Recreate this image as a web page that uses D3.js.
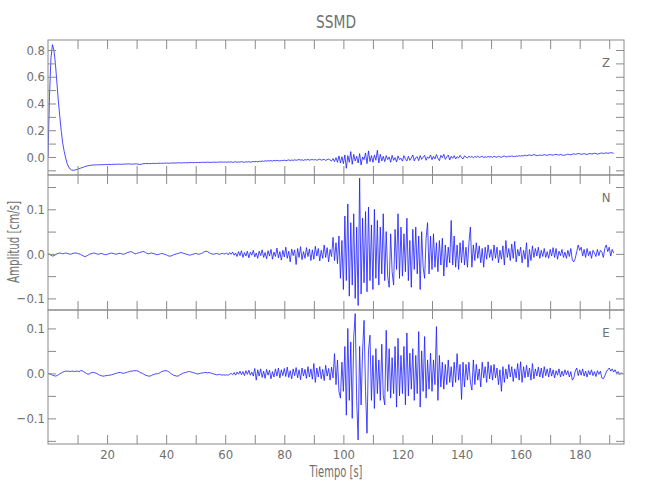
<!DOCTYPE html>
<html><head><meta charset="utf-8">
<script src="https://cdn.jsdelivr.net/npm/d3@7"></script>
<style>
body{margin:0;background:#fff}
svg{display:block}
text{font-family:"DejaVu Sans","Liberation Sans",sans-serif;font-stretch:condensed;fill:#707070}
</style>
</head><body>
<svg id="chart" width="650" height="500"></svg>
<script>
// ---------- data (in 0.001 cm/s) ----------
const title = "SSMD";
const xLabel = "Tiempo [s]";
const yLabel = "Amplitud [cm/s]";
const channels = ["Z", "N", "E"];
const sampleInterval = 0.5;   // s between samples
const startTime = 0;
const xTickValues = [10,20,30,40,50,60,70,80,90,100,110,120,130,140,150,160,170,180,190];
const xTickLabels = [20,40,60,80,100,120,140,160,180];

const zValues = [
  0,450,740,840,800,700,560,420,300,190,100,40,-10,-50,-75,-90,-98,-100,-98,-95,
  -92,-88,-84,-80,-76,-72,-69,-66,-64,-62,-61,-60,-60,-59,-59,-58,-58,-58,-57,-57,
  -57,-56,-56,-56,-55,-55,-55,-54,-54,-55,-55,-54,-53,-53,-52,-52,-53,-54,-53,-52,
  -52,-54,-56,-55,-52,-50,-50,-49,-50,-50,-49,-48,-48,-49,-48,-47,-47,-48,-47,-46,
  -46,-46,-47,-46,-45,-45,-46,-45,-44,-44,-45,-44,-43,-43,-44,-43,-42,-42,-43,-42,
  -42,-41,-42,-41,-40,-40,-41,-40,-39,-40,-41,-40,-39,-39,-40,-39,-38,-38,-39,-38,
  -38,-40,-37,-39,-36,-41,-38,-36,-40,-37,-39,-35,-38,-40,-36,-38,-35,-39,-37,-34,
  -36,-33,-37,-32,-34,-30,-33,-29,-31,-28,-30,-27,-31,-26,-29,-25,-28,-30,-26,-27,
  -24,-28,-25,-22,-27,-23,-26,-21,-25,-22,-19,-24,-21,-26,-20,-23,-18,-24,-21,-19,
  -23,-19,-25,-20,-17,-24,-21,-18,-26,-20,-16,-23,-30,-12,-35,-5,-40,8,-45,2,
  -50,15,-85,10,-40,40,-55,20,-30,5,-45,25,-60,0,-20,30,-50,45,-35,10,
  -40,15,-25,50,-45,20,-30,5,-35,10,-20,0,-40,12,-25,-5,-38,8,-20,-10,
  -32,10,-15,-30,5,-25,-8,15,-30,-5,2,-28,10,-18,-2,12,-25,0,-10,15,
  -20,5,-15,18,-10,-28,12,-5,20,-18,0,14,-22,5,-10,10,-15,2,-8,12,
  -5,-15,8,0,-8,6,-3,4,-6,3,-2,6,-4,1,5,-5,2,-3,4,-1,
  3,-4,6,0,-2,5,1,-3,4,7,2,0,6,3,8,4,2,7,5,9,
  6,10,8,14,9,12,16,11,13,18,14,10,12,15,11,13,17,14,12,16,
  18,15,13,17,20,16,14,18,15,12,14,17,21,18,16,20,24,19,22,26,
  23,20,22,25,21,19,23,26,22,24,28,25,21,24,27,30,26,28,31,27,
  29,32,30,28
];

const nValues = [
  0,-1,-3,-5,-4,-2,0,1,2,1,0,1,2,1,0,-1,0,1,2,2,
  1,0,-1,-3,-5,-6,-5,-3,-1,0,1,2,1,0,-1,0,1,0,-1,-2,
  -1,0,1,2,1,0,-1,0,1,1,0,-1,0,2,3,4,5,4,2,0,
  1,2,3,4,5,5,3,1,0,1,2,1,0,-1,-2,-1,0,1,0,-1,
  -2,-4,-5,-5,-4,-2,-1,0,1,2,3,2,1,0,-1,-2,-3,-2,-1,0,
  1,0,-1,0,1,3,5,6,5,3,1,0,-1,0,1,0,-1,0,1,0,
  0,2,-2,3,-1,4,-3,2,-6,5,-4,7,-8,3,-5,6,-9,4,-3,8,
  -7,2,-10,6,-4,9,-8,3,-11,7,-5,10,-12,4,-6,13,-9,5,-14,8,
  -7,15,-10,6,-18,11,-4,9,-24,12,-8,16,-13,5,-10,14,-6,11,-15,9,
  -12,17,-5,12,-16,8,-10,20,-8,14,-18,10,-6,37,-15,25,-22,40,-55,30,
  -80,85,-60,112,-95,70,-70,90,-100,60,-116,170,-90,80,-65,95,-85,105,-60,65,
  -80,100,-55,75,-70,60,-45,90,-60,50,-50,-75,45,-40,-70,55,-35,90,-55,60,
  -50,45,-40,80,-60,30,-75,55,-35,60,-45,40,-80,50,-30,-55,35,70,-45,40,
  -35,45,-30,25,-40,30,-25,35,-50,20,-30,15,-20,75,-25,40,-30,20,-35,25,
  -20,30,-25,15,-30,25,60,-30,20,-15,25,-10,18,-20,12,-30,15,-12,20,-8,
  10,-15,20,-10,15,-20,8,-12,18,-25,30,-8,12,-15,22,-10,28,-18,10,-5,
  15,-20,8,-12,25,-30,10,-15,18,-8,12,-5,15,-10,8,-6,12,-8,5,-10,
  10,-5,14,-8,12,-12,6,-4,10,-8,4,-10,8,-6,12,-14,-18,-10,5,20,
  8,15,-5,10,-8,12,-4,6,-10,8,2,-6,10,-4,8,4,-8,12,20,5,
  15,-5,10,2
];

const eValues = [
  0,-1,-2,-4,-5,-6,-5,-3,-1,1,3,4,5,5,5,4,5,5,4,5,
  5,4,6,6,4,2,0,-2,-1,1,2,2,1,0,-2,-4,-5,-6,-6,-5,
  -5,-4,-4,-3,-2,-1,0,1,2,2,1,0,1,2,3,4,5,5,6,6,
  6,5,3,1,0,-2,-4,-5,-6,-6,-5,-3,-2,-1,-1,0,2,4,5,6,
  6,5,3,0,-2,-4,-5,-6,-6,-4,-2,0,1,2,3,4,4,3,2,1,
  0,-1,-1,0,1,1,2,2,1,2,1,0,-1,-2,-3,-3,-2,-3,-4,-3,
  -4,-3,-4,-2,0,-3,2,-4,3,-2,5,-3,4,-5,6,-2,7,-4,3,-6,
  11,-15,8,-6,10,-9,5,-11,9,-4,7,-12,4,-8,10,-6,12,-10,8,-5,
  11,-7,14,-9,6,-12,10,-5,13,-10,8,-14,12,-6,9,-11,15,-8,10,-13,
  22,-20,12,-8,15,-12,9,-16,18,-6,11,-15,14,-10,44,-25,30,-40,-55,25,
  -40,60,-93,100,-60,70,-100,80,133,-60,-148,60,-70,50,118,-40,-133,50,85,-60,
  40,-78,55,-45,30,-60,65,-50,-70,96,-40,55,-55,35,-45,60,-75,78,-50,40,
  -45,60,-70,90,-50,45,-35,55,-60,40,-45,93,-75,50,-40,82,-55,30,-35,45,
  -40,30,-25,104,-60,40,-30,25,-35,20,-25,30,-20,15,-30,25,-20,44,-15,20,
  -58,25,-30,20,-15,25,-20,-37,30,-25,20,-15,10,-30,25,-10,15,-20,26,-12,
  18,-15,20,-10,12,-25,8,-40,15,-20,10,-12,20,-8,15,-18,10,-10,22,-15,
  26,-20,15,-10,18,-8,12,-15,22,-12,10,-6,14,-8,12,-10,15,-5,10,-8,
  12,-6,8,-10,6,-4,10,-8,5,-6,8,-3,6,-8,4,-15,-10,5,12,-5,
  8,-4,10,-6,5,-8,6,-3,8,-5,4,-7,6,-2,5,-10,-12,-5,3,8,
  12,5,10,3,8,0,4,-2,1,0
];

// y-axis domains and ticks per panel (cm/s)
const zDomain = [-0.135, 0.875];
const nDomain = [-0.126, 0.177];
const eDomain = [-0.157, 0.141];
const zTicks = [-0.1,0,0.1,0.2,0.3,0.4,0.5,0.6,0.7,0.8];
const zTickLabels = [0,0.2,0.4,0.6,0.8];
const nTicks = [-0.1,-0.05,0,0.05,0.1,0.15];
const nTickLabels = [-0.1,0,0.1];
const eTicks = [-0.15,-0.1,-0.05,0,0.05,0.1];
const eTickLabels = [-0.1,0,0.1];

// ---------- drawing ----------
const svg = d3.select("#chart");
const left = 48, right = 624;
const panelTops = [40, 175, 310];
const panelBottoms = [175, 310, 444];
const x = d3.scaleLinear().domain([0, 195]).range([left, right]);

const panels = [
  {name: channels[0], values: zValues, domain: zDomain, ticks: zTicks, labels: zTickLabels},
  {name: channels[1], values: nValues, domain: nDomain, ticks: nTicks, labels: nTickLabels},
  {name: channels[2], values: eValues, domain: eDomain, ticks: eTicks, labels: eTickLabels}
];

const fmt = d3.format(".1f");
const has = (arr, v) => arr.some(a => Math.abs(a - v) < 1e-9);
const FONT = '"DejaVu Sans","Liberation Sans",sans-serif';

panels.forEach((p, i) => {
  const top = panelTops[i], bottom = panelBottoms[i];
  const y = d3.scaleLinear().domain(p.domain).range([bottom, top]);
  const g = svg.append("g");

  const clipId = "clip" + i;
  svg.append("clipPath").attr("id", clipId).append("rect")
    .attr("x", left).attr("y", top).attr("width", right - left).attr("height", bottom - top);

  const line = d3.line()
    .x((d, k) => x(startTime + k * sampleInterval))
    .y(d => y(d / 1000));
  g.append("path").datum(p.values)
    .attr("clip-path", `url(#${clipId})`)
    .attr("fill", "none").attr("stroke", "#1a1aff").attr("stroke-width", 0.8)
    .attr("stroke-linejoin", "round")
    .attr("d", line);

  const ax = g.append("g").attr("transform", `translate(${left},0)`)
    .call(d3.axisLeft(y).tickValues(p.ticks).tickSize(-8).tickPadding(3)
      .tickFormat(d => has(p.labels, d) ? fmt(d) : ""));
  const ar = g.append("g").attr("transform", `translate(${right},0)`)
    .call(d3.axisRight(y).tickValues(p.ticks).tickSize(-8).tickFormat(""));
  const at = g.append("g").attr("transform", `translate(0,${top})`)
    .call(d3.axisTop(x).tickValues(xTickValues).tickSize(-9).tickFormat(""));
  const ab = g.append("g").attr("transform", `translate(0,${bottom})`)
    .call(d3.axisBottom(x).tickValues(xTickValues).tickSize(-9).tickPadding(6)
      .tickFormat(d => (i === 2 && xTickLabels.includes(d)) ? String(d) : ""));

  [ax, ar, at, ab].forEach(a => {
    a.select(".domain").remove();
    a.selectAll(".tick line").attr("stroke", "#8a8a8a");
    a.selectAll(".tick text").style("font-size", "13px")
      .style("font-family", FONT).style("font-stretch", "condensed")
      .attr("fill", "#707070");
  });

  g.append("rect").attr("x", left).attr("y", top)
    .attr("width", right - left).attr("height", bottom - top)
    .attr("fill", "none").attr("stroke", "#8a8a8a").attr("stroke-width", 1);

  g.append("text").attr("x", 606).attr("y", top + 27)
    .attr("text-anchor", "middle").style("font-size", "13px").text(p.name);
});

svg.append("text").attr("x", 336).attr("y", 28).attr("text-anchor", "middle")
  .style("font-size", "18px").attr("textLength", 40).attr("lengthAdjust", "spacingAndGlyphs")
  .text(title);
svg.append("text").attr("x", 336).attr("y", 477).attr("text-anchor", "middle")
  .style("font-size", "15px").attr("textLength", 53).attr("lengthAdjust", "spacingAndGlyphs")
  .text(xLabel);
svg.append("text").attr("transform", "translate(19,242) rotate(-90)")
  .attr("text-anchor", "middle").style("font-size", "15px")
  .attr("textLength", 82).attr("lengthAdjust", "spacingAndGlyphs").text(yLabel);
</script>
</body></html>
